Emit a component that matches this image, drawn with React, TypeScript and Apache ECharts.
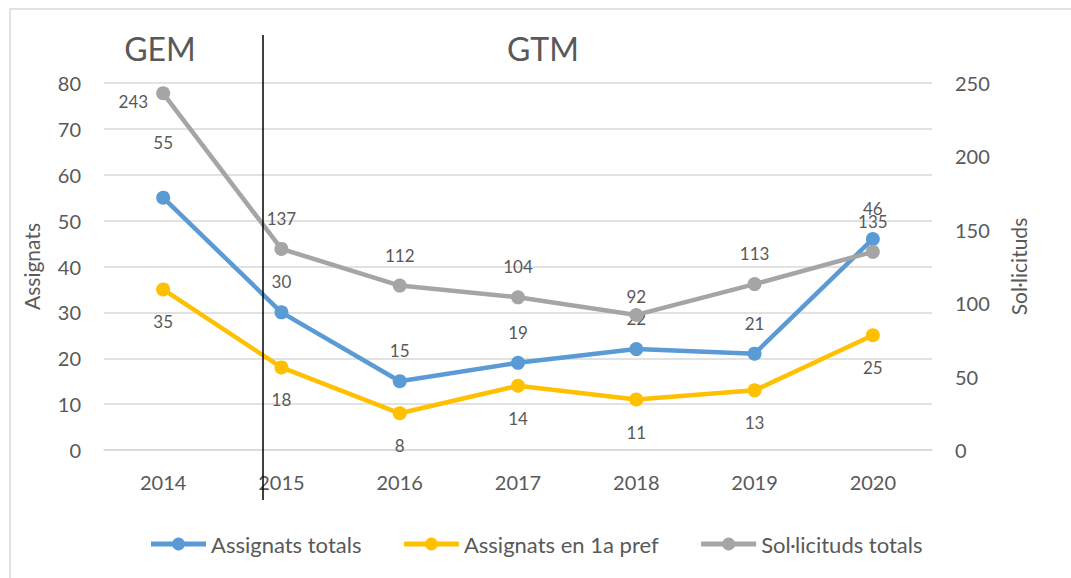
import React, { useEffect, useRef } from "react";
import * as echarts from "echarts";

const years = ["2014", "2015", "2016", "2017", "2018", "2019", "2020"];
const assignatsTotals = [55, 30, 15, 19, 22, 21, 46];
const assignats1aPref = [35, 18, 8, 14, 11, 13, 25];
const solTotals = [243, 137, 112, 104, 92, 113, 135];

const FONT = "Lato";
const TXT = "#595959";

export default function App() {
  const ref = useRef<HTMLDivElement>(null);
  useEffect(() => {
    document.body.style.margin = "0";
    const chart = echarts.init(ref.current!, null, { renderer: "svg" });
    const blueData = assignatsTotals.map((v, i) =>
      i === 0 ? { value: v, label: { distance: 40 } } : v
    );
    const grayData = solTotals.map((v, i) =>
      i === 0
        ? { value: v, label: { position: "left", distance: 8, offset: [0, 8] } }
        : i === 4
        ? { value: v, label: { distance: 3 } }
        : v
    );
    chart.setOption({
      animation: false,
      backgroundColor: "#fff",
      textStyle: { fontFamily: FONT },
      grid: { left: 104, right: 139, top: 83, bottom: 128 },
      legend: {
        bottom: 18,
        left: "center",
        itemWidth: 55,
        itemHeight: 16,
        itemGap: 40,
        lineStyle: { width: 5 },
        textStyle: { color: TXT, fontSize: 22, fontFamily: FONT },
        data: ["Assignats totals", "Assignats en 1a pref", "Sol·licituds totals"],
      },
      xAxis: {
        type: "category",
        data: years,
        boundaryGap: true,
        axisLine: { lineStyle: { color: "#D9D9D9", width: 1.5 } },
        axisTick: { show: false },
        axisLabel: { color: TXT, fontSize: 20, margin: 22, fontFamily: FONT },
      },
      yAxis: [
        {
          type: "value",
          min: 0,
          max: 80,
          interval: 10,
          name: "Assignats",
          nameLocation: "middle",
          nameGap: 62,
          nameTextStyle: { color: TXT, fontSize: 21, fontFamily: FONT },
          axisLine: { show: false },
          axisTick: { show: false },
          axisLabel: { color: TXT, fontSize: 20, margin: 23, fontFamily: FONT },
          splitLine: { lineStyle: { color: "#D9D9D9", width: 1.5 } },
        },
        {
          type: "value",
          min: 0,
          max: 250,
          interval: 50,
          name: "Sol·licituds",
          nameLocation: "middle",
          nameGap: 76,
          nameTextStyle: { color: TXT, fontSize: 21, fontFamily: FONT },
          axisLine: { show: false },
          axisTick: { show: false },
          axisLabel: { color: TXT, fontSize: 20, margin: 23, fontFamily: FONT },
          splitLine: { show: false },
        },
      ],
      series: [
        {
          name: "Assignats totals",
          type: "line",
          yAxisIndex: 0,
          data: blueData,
          symbol: "circle",
          symbolSize: 14,
          color: "#5B9BD5",
          lineStyle: { width: 4.5 },
          label: { show: true, position: "top", distance: 15, color: TXT, fontSize: 17, fontFamily: FONT },
          z: 3,
        },
        {
          name: "Assignats en 1a pref",
          type: "line",
          yAxisIndex: 0,
          data: assignats1aPref,
          symbol: "circle",
          symbolSize: 14,
          color: "#FFC000",
          lineStyle: { width: 4.5 },
          label: { show: true, position: "bottom", distance: 17, color: TXT, fontSize: 17, fontFamily: FONT },
          z: 2,
        },
        {
          name: "Sol·licituds totals",
          type: "line",
          yAxisIndex: 1,
          data: grayData,
          symbol: "circle",
          symbolSize: 14,
          color: "#A5A5A5",
          lineStyle: { width: 4.5 },
          label: { show: true, position: "top", distance: 15, color: TXT, fontSize: 17, fontFamily: FONT },
          z: 4,
        },
      ],
      graphic: [
        {
          type: "rect",
          shape: { x: 10, y: 9, width: 1100, height: 620 },
          style: { fill: "none", stroke: "#D9D9D9", lineWidth: 1.5 },
          silent: true,
          z: -10,
        },
        {
          type: "line",
          shape: { x1: 263, y1: 35, x2: 263, y2: 500 },
          style: { stroke: "#000", lineWidth: 1.5 },
          z: 100,
        },
        {
          type: "text",
          x: 160,
          y: 48,
          style: { text: "GEM", fill: TXT, fontSize: 32, fontFamily: FONT, align: "center", verticalAlign: "middle" },
          z: 100,
        },
        {
          type: "text",
          x: 543,
          y: 48,
          style: { text: "GTM", fill: TXT, fontSize: 32, fontFamily: FONT, align: "center", verticalAlign: "middle" },
          z: 100,
        },
      ],
    });
    return () => chart.dispose();
  }, []);
  return <div ref={ref} style={{ width: 1071, height: 578 }} />;
}
